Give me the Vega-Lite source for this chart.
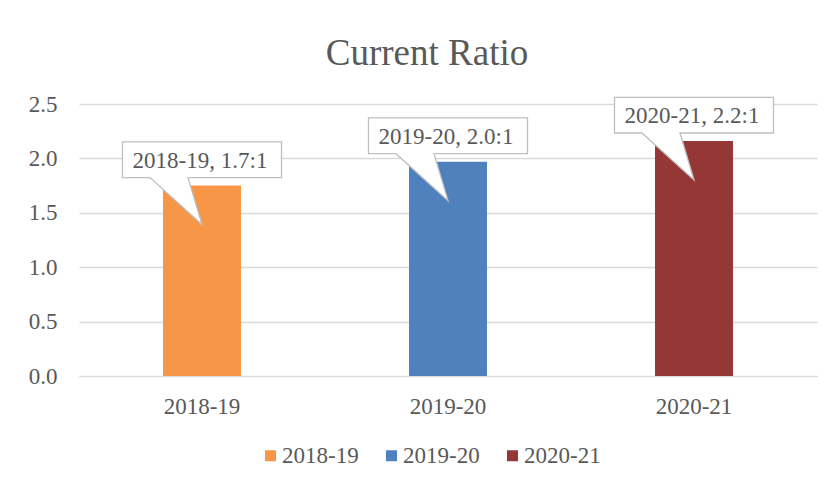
{
  "$schema": "https://vega.github.io/schema/vega-lite/v6.json",
  "width": 738,
  "height": 272,
  "autosize": "none",
  "padding": {"left": 79, "top": 104, "right": 15, "bottom": 112},
  "background": "white",
  "title": {
    "text": "Current Ratio",
    "font": "Liberation Serif",
    "fontSize": 37,
    "fontWeight": "normal",
    "color": "#595959",
    "anchor": "middle",
    "dx": -21,
    "offset": 20
  },
  "data": {
    "values": [
      {"year": "2018-19", "ratio": 1.75, "label": "2018-19, 1.7:1"},
      {"year": "2019-20", "ratio": 1.97, "label": "2019-20, 2.0:1"},
      {"year": "2020-21", "ratio": 2.16, "label": "2020-21, 2.2:1"}
    ]
  },
  "encoding": {
    "x": {
      "field": "year",
      "type": "nominal",
      "sort": null,
      "scale": {"paddingInner": 0.683, "paddingOuter": 0.3415},
      "axis": {
        "title": null,
        "labelAngle": 0,
        "ticks": false,
        "domainColor": "#d9d9d9",
        "labelFont": "Liberation Serif",
        "labelFontSize": 23,
        "labelColor": "#595959",
        "labelPadding": 19
      }
    },
    "y": {
      "field": "ratio",
      "type": "quantitative",
      "scale": {"domain": [0, 2.5], "nice": false},
      "axis": {
        "title": null,
        "values": [0, 0.5, 1, 1.5, 2, 2.5],
        "format": ".1f",
        "domain": false,
        "ticks": false,
        "gridColor": "#d9d9d9",
        "gridWidth": 1.3,
        "labelFont": "Liberation Serif",
        "labelFontSize": 23,
        "labelColor": "#595959",
        "labelPadding": 22
      }
    }
  },
  "layer": [
    {
      "mark": {"type": "bar"},
      "encoding": {
        "color": {
          "field": "year",
          "type": "nominal",
          "scale": {
            "domain": ["2018-19", "2019-20", "2020-21"],
            "range": ["#F79646", "#4F81BD", "#953735"]
          },
          "legend": {
            "title": null,
            "orient": "none",
            "direction": "horizontal",
            "legendX": 180,
            "legendY": 340,
            "symbolType": "square",
            "symbolSize": 121,
            "symbolStrokeWidth": 0,
            "labelFont": "Liberation Serif",
            "labelFontSize": 23,
            "labelColor": "#595959",
            "labelOffset": 0,
            "columnPadding": 21
          }
        }
      }
    },
    {
      "mark": {
        "type": "point",
        "shape": "M -79.5 -43.7 H 79.5 V -8 H -14 L 0 39 L -52 -8 H -79.5 Z",
        "size": 4,
        "filled": true,
        "fill": "white",
        "stroke": "#bfbfbf",
        "strokeWidth": 1.3,
        "opacity": 1
      }
    },
    {
      "mark": {
        "type": "text",
        "font": "Liberation Serif",
        "fontSize": 23,
        "color": "#595959",
        "baseline": "alphabetic",
        "align": "center",
        "dx": -2,
        "dy": -18
      },
      "encoding": {"text": {"field": "label"}}
    }
  ],
  "config": {
    "view": {"stroke": null}
  }
}
